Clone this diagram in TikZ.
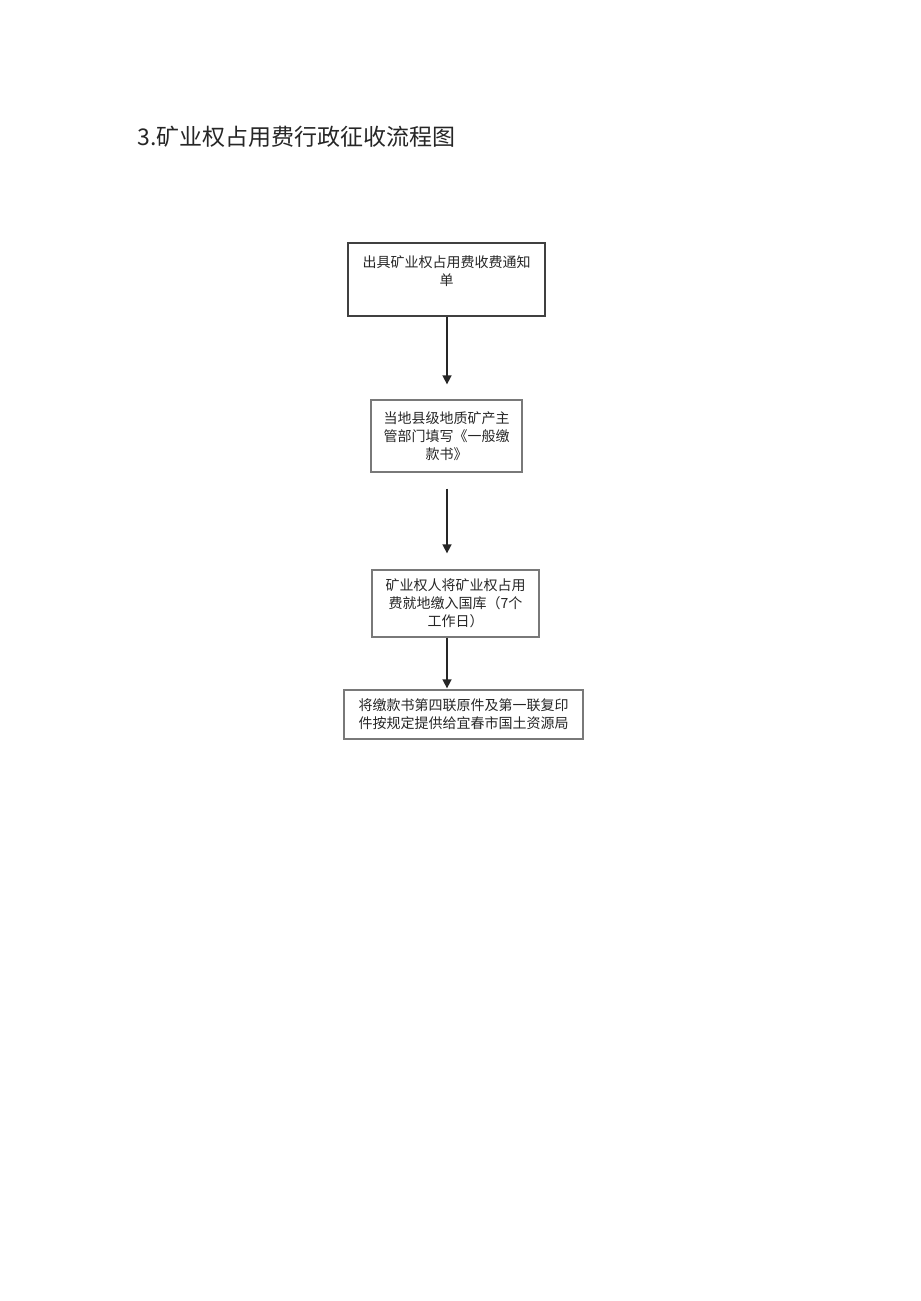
\documentclass[tikz,border=0pt]{standalone}
\usepackage{fontspec}
\newfontfamily\cjk{Noto Sans CJK SC}
\usetikzlibrary{arrows.meta}
\begin{document}
\begin{tikzpicture}[x=1bp,y=-1bp,
  box/.style={draw=gray!95!black, line width=1.3bp, inner sep=0pt, font=\cjk\fontsize{14bp}{18bp}\selectfont, text=black!85, align=center},
  darkbox/.style={box, draw=black!75, line width=1.8bp},
  flow/.style={draw=black!85, line width=1.6bp, -{Triangle[width=9bp,length=9bp]}},
]
\useasboundingbox (0,0) rectangle (920,1301);
\node[anchor=base west, font=\cjk\fontsize{23bp}{27bp}\selectfont, text=black!85] (title) at (134,146) {3.矿业权占用费行政征收流程图};
\node[darkbox, minimum width=197bp, minimum height=73bp] (b1) at (446.5,279.5) {出具矿业权占用费收费通知\\单\\\mbox{}};
\node[box, minimum width=151bp, minimum height=72bp] (b2) at (446.5,436) {当地县级地质矿产主\\管部门填写《一般缴\\款书》};
\node[box, minimum width=167bp, minimum height=67bp] (b3) at (455.5,603.5) {矿业权人将矿业权占用\\费就地缴入国库（7个\\工作日）};
\node[box, minimum width=239bp, minimum height=49bp] (b4) at (463.5,714.5) {将缴款书第四联原件及第一联复印\\件按规定提供给宜春市国土资源局};
\draw[flow, shorten >=15bp] ([xshift=0.5bp]b1.south) -- ([xshift=0.5bp]b1.south |- b2.north);
\draw[flow, shorten <=16bp, shorten >=16bp] ([xshift=0.5bp]b2.south) -- ([xshift=0.5bp]b2.south |- b3.north);
\draw[flow, shorten >=1bp] ([xshift=0.5bp]b2.south |- b3.south) -- ([xshift=0.5bp]b2.south |- b4.north);
\end{tikzpicture}
\end{document}
